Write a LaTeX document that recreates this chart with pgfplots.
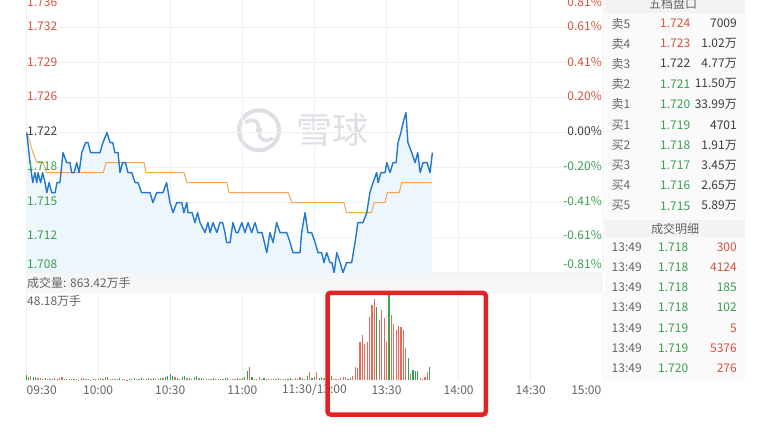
\documentclass[border=0pt]{standalone}
\usepackage{fontspec}
\setmainfont{Noto Sans CJK SC}
\usepackage{pgfplots}
\usepackage{pgfplotstable}
\pgfplotsset{compat=1.18}

\definecolor{linec}{RGB}{33,120,208}
\definecolor{fillblue}{RGB}{238,246,253}
\definecolor{avgc}{RGB}{245,166,80}
\definecolor{gridc}{RGB}{240,240,240}
\definecolor{upred}{RGB}{214,82,64}
\definecolor{dngreen}{RGB}{58,160,80}
\definecolor{barred}{RGB}{236,104,88}
\definecolor{bargreen}{RGB}{48,165,80}
\definecolor{txt}{RGB}{100,100,100}
\definecolor{dark}{RGB}{60,60,60}
\definecolor{bandc}{RGB}{245,246,248}
\definecolor{tblbg}{RGB}{250,250,250}
\definecolor{hdrc}{RGB}{243,243,243}
\definecolor{wm}{RGB}{220,224,228}
\definecolor{boxred}{RGB}{225,35,35}

% minute of trading day (0 = 09:30, 120 = 11:30/13:00), price
\pgfplotstableread{
m p
0.3 1.722
1.7 1.719
2.8 1.717
3.7 1.718
4.5 1.717
5.0 1.718
6.1 1.717
6.9 1.718
7.9 1.717
8.7 1.716
9.6 1.717
10.7 1.716
12.1 1.716
12.9 1.717
14.1 1.717
15.4 1.720
16.9 1.719
18.3 1.719
19.0 1.718
20.0 1.718
21.1 1.719
22.1 1.718
23.2 1.720
24.8 1.721
25.8 1.721
26.9 1.720
30.8 1.720
32.0 1.721
33.7 1.722
35.0 1.721
36.1 1.721
37.0 1.720
38.3 1.720
39.1 1.718
40.2 1.719
41.4 1.719
42.4 1.718
44.0 1.718
45.4 1.717
46.6 1.717
48.1 1.716
51.6 1.716
52.8 1.715
54.4 1.716
57.0 1.716
58.5 1.717
59.9 1.715
61.2 1.714
62.7 1.715
64.8 1.715
65.7 1.714
66.9 1.715
67.4 1.714
69.1 1.714
70.3 1.713
71.4 1.714
72.4 1.713
74.5 1.712
75.7 1.713
76.6 1.712
77.8 1.713
79.4 1.712
80.7 1.713
81.8 1.713
82.8 1.712
83.5 1.711
84.9 1.711
86.1 1.713
87.4 1.712
88.2 1.712
89.8 1.713
91.1 1.712
92.4 1.713
93.9 1.712
95.3 1.713
96.5 1.712
98.2 1.712
100.2 1.710
101.5 1.712
102.8 1.711
104.3 1.713
105.7 1.712
108.5 1.712
109.9 1.711
111.1 1.710
114.0 1.710
114.7 1.712
116.1 1.714
117.3 1.712
118.9 1.712
120.3 1.711
121.5 1.710
123.0 1.710
124.0 1.709
125.1 1.710
126.5 1.709
127.3 1.709
128.2 1.708
129.3 1.710
130.7 1.709
131.9 1.708
133.4 1.709
135.5 1.709
136.9 1.711
138.1 1.713
140.2 1.713
141.8 1.714
143.1 1.716
144.4 1.717
145.9 1.718
146.5 1.717
147.7 1.718
149.4 1.718
150.1 1.719
151.5 1.718
152.7 1.719
154.0 1.719
154.8 1.721
156.0 1.722
156.9 1.723
158.1 1.724
158.9 1.721
160.5 1.720
161.9 1.719
163.0 1.720
164.0 1.718
165.2 1.719
166.9 1.719
168.1 1.718
169.1 1.720
}\price

% average price
\pgfplotstableread{
m p
0.3 1.722
1.7 1.721
2.9 1.720
4.6 1.719
7.1 1.719
8.6 1.718
32.2 1.718
33.3 1.719
49.1 1.719
49.9 1.718
65.7 1.718
67.0 1.717
83.6 1.717
84.5 1.716
109.0 1.716
110.7 1.715
132.3 1.715
133.4 1.714
143.8 1.714
144.8 1.715
149.4 1.715
150.3 1.716
155.3 1.716
156.3 1.717
168.8 1.717
}\avgp

% volume, 10k lots, up minutes
\pgfplotstableread{
m v
2 2.2
5 1.1
6 1.2
9 0.8
11 0.6
12 1.3
14 1.1
15 1.8
17 1.0
19 0.5
21 0.6
23 1.1
24 1.4
25 0.6
27 0.4
29 0.6
31 1.2
33 2.0
35 1.0
37 0.8
40 0.6
42 0.4
46 0.6
49 0.8
52 0.9
55 1.0
57 1.4
62 1.8
67 1.1
69 0.9
72 1.3
75 0.9
77 0.7
79 1.0
82 0.8
85 0.9
87 1.0
89 0.8
93 7.2
95 1.0
97 1.6
100 1.0
102 0.6
104 0.8
107 0.6
108 1.0
111 0.8
112 1.3
114 1.8
116 1.0
118 4.4
121 4.4
124 1.1
128 0.6
129 0.6
130 0.6
131 1.1
132 1.7
133 2.0
135 1.5
136 2.5
137 7.2
138 6.6
139 21.0
140 24.9
141 20.0
142 21.2
143 35.0
144 41.5
145 45.3
147 33.2
148 38.8
149 34.3
150 21.2
152 36.0
153 31.0
154 27.7
155 29.9
156 29.4
157 27.7
158 17.7
160 3.3
164 1.1
165 0.8
166 1.8
167 4.4
}\volr

% volume, down minutes
\pgfplotstableread{
m v
0 2.8
1 1.7
3 2.0
4 1.8
7 1.0
8 1.4
10 0.9
13 0.8
16 0.7
18 0.6
20 0.5
22 0.4
26 0.5
28 0.8
30 0.9
32 0.6
34 1.6
36 0.5
38 0.7
39 1.3
41 0.5
43 0.9
44 0.7
45 1.1
47 1.0
48 1.3
50 1.0
51 1.2
53 1.1
54 0.9
56 1.2
58 1.6
59 2.4
60 3.3
61 2.6
63 1.2
64 1.0
65 1.6
66 2.2
68 1.5
70 1.9
71 2.5
73 1.1
74 0.8
76 1.0
78 1.3
80 0.9
81 0.7
83 1.1
84 1.3
86 0.8
88 1.2
90 1.4
91 2.0
92 5.0
94 1.6
96 0.8
98 0.7
99 1.2
101 0.8
103 0.9
105 1.1
106 0.9
109 0.7
110 1.2
113 0.9
115 1.1
117 2.2
119 1.5
120 1.7
122 1.1
123 1.7
125 1.7
126 1.1
127 2.2
134 1.0
146 40.6
151 48.18
159 12.2
161 5.5
162 5.0
163 5.0
168 7.2
}\volg

\begin{document}
\begin{tikzpicture}[font=\fontsize{12}{14}\selectfont]
% page frame
\fill[white] (0pt,0pt) rectangle (765pt,-431pt);

% order book background
\fill[tblbg] (605pt,0pt) rectangle (745pt,-380pt);
\fill[hdrc] (605pt,0pt) rectangle (745pt,-13pt);
\fill[hdrc] (605pt,-220pt) rectangle (745pt,-237pt);

% volume caption band
\fill[bandc] (26pt,-272.3pt) rectangle (603pt,-293pt);

% watermark
\draw[wm, line width=4pt] (259pt,-130pt) circle (20pt);
\draw[wm, line width=3.5pt, line cap=round] (246pt,-122pt) .. controls (254pt,-116pt) and (262pt,-124pt) .. (257pt,-131pt);
\draw[wm, line width=3.5pt, line cap=round] (261pt,-129pt) .. controls (256pt,-136pt) and (264pt,-144pt) .. (272pt,-138pt);
\node[wm, font=\fontsize{36}{36}\selectfont, inner sep=0pt] at (332pt,-130pt) {雪球};

\begin{axis}[
    at={(26pt,-272.3pt)}, anchor=south west,
    scale only axis, width=576.8pt, height=272.3pt,
    xmin=0, xmax=240, ymin=1.708, ymax=1.73523,
    xtick={0,30,...,240},
    ytick={1.708,1.7115,1.715,1.7185,1.722,1.7255,1.729,1.7325},
    xticklabels={}, yticklabels={},
    grid=major, major grid style={gridc, line width=0.6pt},
    major tick length=0pt,
    axis line style={draw=none},
]
\addplot[fill=fillblue, draw=none, forget plot] table {\price}
  -- (axis cs:169.1,1.708) -- (axis cs:0.3,1.708) -- cycle;
\addplot[avgc, line width=1pt] table {\avgp};
\addplot[linec, line width=1.4pt, line join=round] table {\price};
\end{axis}

\begin{axis}[
    at={(26pt,-380pt)}, anchor=south west,
    scale only axis, width=576.8pt, height=87pt,
    xmin=0, xmax=240, ymin=0, ymax=48.18,
    xtick={0,30,...,240}, ytick=\empty,
    xticklabels={},
    xmajorgrids, major grid style={gridc, line width=0.6pt},
    major tick length=0pt,
    axis line style={draw=none},
]
\addplot[ycomb, barred, line width=1.2pt] table {\volr};
\addplot[ycomb, bargreen, line width=1.2pt] table {\volg};
\end{axis}

% price axis labels
\begin{scope}[every node/.style={inner sep=0pt}]
\node[overlay, anchor=west, upred] at (27pt,-2pt) {1.736};
\node[anchor=west, upred] at (27pt,-26pt) {1.732};
\node[anchor=west, upred] at (27pt,-61.5pt) {1.729};
\node[anchor=west, upred] at (27pt,-96pt) {1.726};
\node[anchor=west, dark] at (27pt,-131pt) {1.722};
\node[anchor=west, dngreen] at (27pt,-165.5pt) {1.718};
\node[anchor=west, dngreen] at (27pt,-200.5pt) {1.715};
\node[anchor=west, dngreen] at (27pt,-235pt) {1.712};
\node[anchor=west, dngreen] at (27pt,-263.5pt) {1.708};
\node[overlay, anchor=east, upred] at (602pt,-2pt) {0.81\%};
\node[anchor=east, upred] at (602pt,-26pt) {0.61\%};
\node[anchor=east, upred] at (602pt,-61.5pt) {0.41\%};
\node[anchor=east, upred] at (602pt,-96pt) {0.20\%};
\node[anchor=east, dark] at (602pt,-131pt) {0.00\%};
\node[anchor=east, dngreen] at (602pt,-165.5pt) {-0.20\%};
\node[anchor=east, dngreen] at (602pt,-200.5pt) {-0.41\%};
\node[anchor=east, dngreen] at (602pt,-235pt) {-0.61\%};
\node[anchor=east, dngreen] at (602pt,-263.5pt) {-0.81\%};

\node[anchor=west, txt] at (27pt,-282.5pt) {成交量: 863.42万手};
\node[anchor=west, txt] at (27pt,-300.5pt) {48.18万手};

% time axis
\node[anchor=west, txt] at (26.5pt,-390pt) {09:30};
\node[txt] at (98.1pt,-390pt) {10:00};
\node[txt] at (170.2pt,-390pt) {10:30};
\node[txt] at (242.3pt,-390pt) {11:00};
\node[txt] at (314.4pt,-390pt) {11:30/13:00};
\node[txt] at (386.5pt,-390pt) {13:30};
\node[txt] at (458.6pt,-390pt) {14:00};
\node[txt] at (530.7pt,-390pt) {14:30};
\node[anchor=east, txt] at (601.5pt,-390pt) {15:00};

% order book
\node[overlay, txt] at (673pt,-3.5pt) {五档盘口};
\foreach \lab/\pr/\pc/\vol/\yy in {
  卖5/1.724/upred/7009/23.3, 卖4/1.723/upred/1.02万/43.3, 卖3/1.722/dark/4.77万/63.3,
  卖2/1.721/dngreen/11.50万/83.5, 卖1/1.720/dngreen/33.99万/104,
  买1/1.719/dngreen/4701/125, 买2/1.718/dngreen/1.91万/145, 买3/1.717/dngreen/3.45万/165,
  买4/1.716/dngreen/2.65万/185, 买5/1.715/dngreen/5.89万/205.5}{
  \node[anchor=west, txt] at (611.5pt,-\yy pt) {\lab};
  \node[anchor=west, text=\pc] at (660pt,-\yy pt) {\pr};
  \node[anchor=east, dark] at (737pt,-\yy pt) {\vol};
}
\node[txt] at (675pt,-228.5pt) {成交明细};
\foreach \pr/\vol/\vc/\yy in {
  1.718/300/upred/246.5, 1.718/4124/upred/266.7, 1.718/185/dngreen/287,
  1.718/102/dngreen/307.3, 1.719/5/upred/327.7, 1.719/5376/upred/347.7,
  1.720/276/upred/368}{
  \node[anchor=west, txt] at (611.5pt,-\yy pt) {13:49};
  \node[anchor=west, dngreen] at (658pt,-\yy pt) {\pr};
  \node[anchor=east, text=\vc] at (737pt,-\yy pt) {\vol};
}
\end{scope}

% highlight box
\draw[boxred, line width=4.5pt, rounded corners=3pt] (327.5pt,-292.5pt) rectangle (485.8pt,-414.2pt);
\end{tikzpicture}
\end{document}
